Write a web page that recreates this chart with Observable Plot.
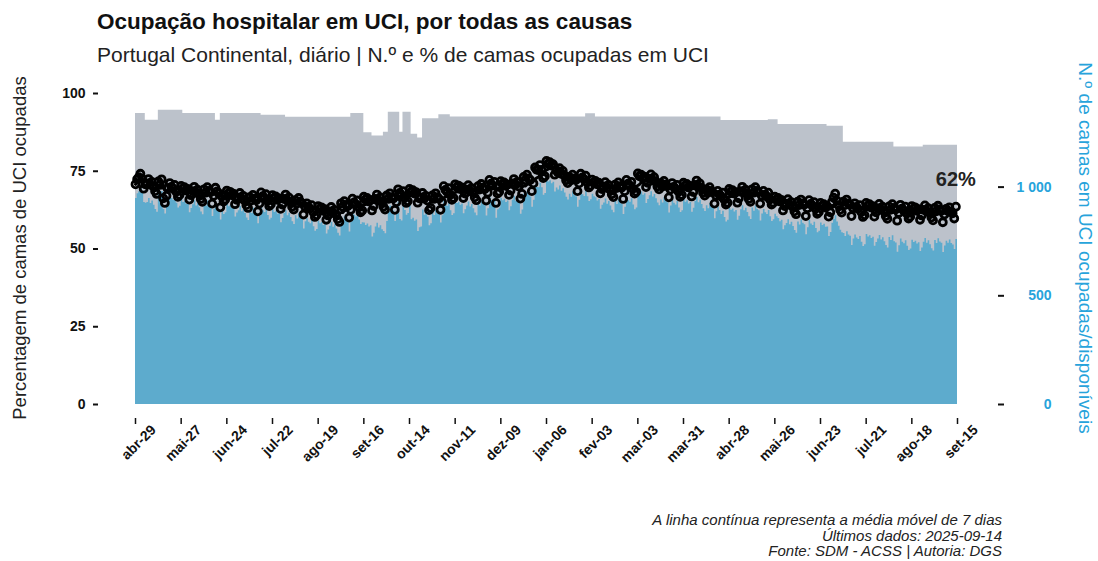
<!DOCTYPE html>
<html><head><meta charset="utf-8">
<script src="https://cdn.jsdelivr.net/npm/d3@7"></script>
<script src="https://cdn.jsdelivr.net/npm/@observablehq/plot@0.6"></script>
<style>
body{margin:0;background:#fff;font-family:"Liberation Sans",Arial,sans-serif;}
#wrap{position:relative;width:1098px;height:561px;overflow:hidden;background:#fff;}
#title{position:absolute;left:97px;top:11px;font-size:22.5px;font-weight:bold;line-height:22.5px;color:#111;white-space:nowrap;}
#subtitle{position:absolute;left:97px;top:44px;font-size:21px;line-height:21px;color:#222;white-space:nowrap;}
#chart{position:absolute;left:0;top:75px;}
#caption{position:absolute;right:96px;top:512px;font-size:15px;line-height:15.5px;font-style:italic;text-align:right;color:#222;white-space:nowrap;}
</style></head>
<body>
<div id="wrap">
  <div id="title">Ocupação hospitalar em UCI, por todas as causas</div>
  <div id="subtitle">Portugal Continental, diário | N.º e % de camas ocupadas em UCI</div>
  <div id="chart"></div>
  <div id="caption">A linha contínua representa a média móvel de 7 dias<br>Últimos dados: 2025-09-14<br>Fonte: SDM - ACSS | Autoria: DGS</div>
</div>
<script>
// ---- data ----
const firstDay = "2024-04-29";
// daily % of ICU beds occupied (from 2024-04-29 to 2025-09-14)
const pct = [
70.8,72.4,73.1,74.2,72.6,69.4,70.8,
71.1,72.5,70.7,71.6,70.1,68.6,67.7,
71.7,70.6,72.4,66.3,64.8,67.1,69.6,
71.2,70.0,69.4,70.6,68.4,66.8,67.4,
70.3,69.4,69.9,68.8,69.3,65.9,67.3,
68.6,70.0,68.2,69.1,67.6,66.1,65.2,
69.2,68.1,69.9,68.7,68.2,64.6,67.1,
69.7,68.5,67.9,63.4,66.9,65.3,65.9,
68.8,67.9,68.4,67.3,67.8,64.4,65.8,
66.6,68.0,66.2,67.1,65.6,64.1,63.2,
66.7,65.6,67.4,66.2,65.7,62.1,64.6,
68.2,67.0,66.4,67.6,65.4,63.8,64.4,
67.3,66.4,66.9,65.8,66.3,62.9,64.3,
66.1,67.5,65.7,66.6,65.1,63.6,62.7,
65.7,64.6,66.4,65.2,64.7,61.1,63.6,
64.7,63.5,62.9,64.1,61.9,60.3,60.9,
63.8,62.9,63.4,62.3,62.8,59.4,60.8,
62.1,63.5,61.7,62.6,61.1,59.6,58.7,
64.7,63.6,65.4,64.2,63.7,60.1,62.6,
66.2,65.0,64.4,65.6,63.4,61.8,62.4,
66.8,65.9,66.4,65.3,65.8,62.4,63.8,
66.1,67.5,65.7,66.6,65.1,63.6,62.7,
67.2,66.1,67.9,66.7,66.2,62.6,65.1,
69.2,68.0,67.4,68.6,66.4,64.8,65.4,
69.3,68.4,68.9,67.8,68.3,64.9,66.3,
66.6,68.0,66.2,67.1,65.6,62.5,63.2,
67.2,66.1,67.9,66.7,66.2,62.6,65.1,
70.2,69.0,68.4,69.6,67.4,65.8,66.4,
70.8,69.9,70.4,69.3,69.8,66.4,67.8,
69.1,70.5,68.7,69.6,68.1,66.6,65.7,
70.2,69.1,70.9,69.7,69.2,65.6,68.1,
72.2,71.0,70.4,71.6,64.8,67.8,68.4,
71.8,70.9,71.4,70.3,70.8,67.4,68.8,
71.1,72.5,70.7,71.6,70.1,66.2,67.7,
73.2,72.1,73.9,72.7,72.2,68.6,71.1,
76.2,75.5,75.4,77.0,75.4,72.8,73.4,
78.3,77.4,77.9,76.8,77.3,73.9,75.3,
74.6,76.0,74.2,75.1,73.6,72.1,71.2,
73.2,72.1,73.9,72.7,72.2,68.6,71.1,
74.2,73.0,72.4,73.6,71.4,69.8,70.4,
72.3,71.4,71.9,70.8,71.3,67.9,69.3,
70.1,71.5,69.7,70.6,69.1,67.6,66.7,
70.7,69.6,71.4,70.2,69.7,66.1,68.6,
72.2,71.0,70.4,71.6,69.4,67.8,68.4,
74.3,73.4,73.9,72.8,73.3,69.9,71.3,
72.6,74.0,72.2,73.1,71.6,70.1,69.2,
71.2,70.1,71.9,70.7,70.2,66.6,69.1,
71.2,70.0,69.4,70.6,68.4,66.8,67.4,
71.3,70.4,70.9,69.8,70.3,66.9,68.3,
70.6,72.0,70.2,71.1,69.6,68.1,67.2,
69.2,68.1,69.9,68.7,68.2,64.6,67.1,
68.7,67.5,66.9,68.1,65.9,64.3,64.9,
69.3,68.4,68.9,67.8,68.3,64.9,66.3,
68.6,70.0,68.2,69.1,67.6,66.1,65.2,
69.2,68.1,69.9,68.7,68.2,64.6,67.1,
68.7,67.5,66.9,68.1,65.9,64.3,64.9,
66.8,65.9,66.4,65.3,65.8,62.4,63.8,
64.6,66.0,64.2,65.1,63.6,62.1,61.2,
65.2,64.1,65.9,64.7,64.2,60.6,63.1,
65.7,64.5,63.9,65.1,62.9,61.3,61.9,
64.8,63.9,64.4,63.3,63.8,60.4,61.8,
65.1,66.5,67.8,65.6,64.1,62.6,61.7,
65.2,64.1,65.9,64.7,64.2,60.6,63.1,
64.7,63.5,62.9,64.1,61.9,60.3,60.9,
64.8,63.9,64.4,63.3,63.8,60.4,61.8,
63.1,64.5,62.7,63.6,62.1,60.6,59.7,
63.7,62.6,64.4,63.2,62.7,59.1,61.6,
64.2,63.0,62.4,63.6,61.4,59.8,60.4,
63.8,62.9,63.4,62.3,62.8,59.4,60.8,
62.6,64.0,62.2,63.1,61.6,60.1,59.2,
63.2,62.1,63.9,62.7,62.2,58.6,61.1,
62.9,62.2,63.4,62.1,61.5,59.8,63.6
];
// available ICU beds: dates where the count changes, and the count from then on
const availStart = ["2024-04-29","2024-05-05","2024-05-13","2024-05-28","2024-06-17","2024-06-20","2024-07-15","2024-07-30","2024-09-08","2024-09-16","2024-09-21","2024-09-28","2024-10-01","2024-10-08","2024-10-10","2024-10-15","2024-10-19","2024-10-22","2024-11-01","2024-11-08","2025-01-30","2025-02-05","2025-04-23","2025-05-22","2025-05-28","2025-06-27","2025-07-07","2025-08-07","2025-08-25"];
const availBeds = [1339,1307,1353,1339,1307,1339,1330,1321,1339,1250,1235,1252,1344,1252,1344,1243,1226,1315,1333,1322,1338,1322,1306,1310,1288,1280,1206,1185,1193];
// axis ticks
const xTickDates = ["2024-04-29","2024-05-27","2024-06-24","2024-07-22","2024-08-19","2024-09-16","2024-10-14","2024-11-11","2024-12-09","2025-01-06","2025-02-03","2025-03-03","2025-03-31","2025-04-28","2025-05-26","2025-06-23","2025-07-21","2025-08-18","2025-09-15"];
const xTickLabels = ["abr-29","mai-27","jun-24","jul-22","ago-19","set-16","out-14","nov-11","dez-09","jan-06","fev-03","mar-03","mar-31","abr-28","mai-26","jun-23","jul-21","ago-18","set-15"];
const leftTicks = [0,25,50,75,100];
const rightTicks = [0,500,1000];
const rightTickLabels = ["0","500","1 000"];
const bedsPerPct = 1000/69.9; // right axis: beds per unit of the left (%) axis

// ---- build tables ----
const parse = d3.utcParse("%Y-%m-%d");
const d0 = parse(firstDay);
const starts = availStart.map(parse);
function availOn(date){
  let v = availBeds[0];
  for (let j=0;j<starts.length;j++) if (starts[j] <= date) v = availBeds[j];
  return v;
}
const rows = pct.map((p,i)=>{
  const date = d3.utcDay.offset(d0,i);
  const avail = availOn(date);
  return {date, pct:p, avail, availY: avail/bedsPerPct, occY: p*avail/100/bedsPerPct};
});
const last = rows[rows.length-1];
const areaRows = rows.concat([{...last, date: d3.utcDay.offset(last.date,1)}]);
const ma7 = d3.mean(pct.slice(-7));
const xTicks = xTickDates.map(parse);
const tickMap = new Map(xTickDates.map((d,i)=>[+parse(d), xTickLabels[i]]));
const rightMap = new Map(rightTicks.map((b,i)=>[b, rightTickLabels[i]]));
const blueText = "#27a3db";

const chart = Plot.plot({
  width:1098, height:425,
  marginLeft:98, marginRight:101, marginTop:18, marginBottom:82,
  x:{type:"utc", domain:[d0, parse("2025-09-15")], insetLeft:37, insetRight:40},
  y:{domain:[0,100], insetBottom:14},
  style:{fontFamily:"'Liberation Sans', Arial, sans-serif", background:"transparent", overflow:"visible", color:"#111"},
  marks:[
    Plot.areaY(areaRows,{x:"date", y:"availY", fill:"#bcc2cb", curve:"step-after"}),
    Plot.areaY(areaRows,{x:"date", y:"occY", fill:"#5dabcd", curve:"step-after"}),
    Plot.lineY(rows, Plot.windowY({k:7, anchor:"end"}, {x:"date", y:"pct", stroke:"#000", strokeWidth:3})),
    Plot.dot(rows,{x:"date", y:"pct", r:3.5, stroke:"#000", strokeWidth:2.8, fill:"none"}),
    Plot.text([last],{x:"date", y:()=>ma7, text:()=>`${Math.round(ma7)}%`, dy:-31, fontSize:20, fontWeight:"bold", fill:"#222", textAnchor:"middle"}),
    Plot.axisX({ticks: xTicks, tickFormat: ()=>"", tickSize:6, strokeWidth:1.5, stroke:"#111", label:null}),
    Plot.axisX({ticks: xTicks, tickFormat: d=>tickMap.get(+d), tickRotate:-45, tickSize:0, tickPadding:9, dx:18, fontWeight:"bold", fontSize:14, fill:"#111", label:null}),
    Plot.axisY({anchor:"left", ticks:leftTicks, tickSize:5, tickPadding:8, strokeWidth:2, fontWeight:"bold", fontSize:14, fill:"#111", label:null}),
    Plot.axisY({anchor:"right", ticks: rightTicks.map(b=>b/bedsPerPct), tickFormat: v=>rightMap.get(Math.round(v*bedsPerPct/10)*10), tickSize:6, tickPadding:48, textAnchor:"end", strokeWidth:2, stroke:"#111", fill:blueText, fontWeight:"bold", fontSize:14, label:null}),
    Plot.text(["Percentagem de camas de UCI ocupadas"],{text:d=>d, frameAnchor:"left", textAnchor:"middle", rotate:-90, dx:-78, dy:-8, fontSize:18.5, fill:"#222"}),
    Plot.text(["N.º de camas em UCI ocupadas/disponíveis"],{text:d=>d, frameAnchor:"right", textAnchor:"middle", rotate:90, dx:88, dy:-8, fontSize:19, fill:blueText})
  ]
});
document.getElementById("chart").appendChild(chart);
</script>
</body></html>
